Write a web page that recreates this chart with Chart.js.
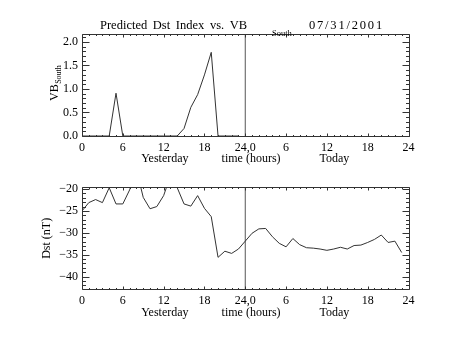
<!DOCTYPE html>
<html>
<head>
<meta charset="utf-8">
<script src="https://cdn.jsdelivr.net/npm/chart.js@4.4.1/dist/chart.umd.min.js"></script>
<style>
    body { margin: 0; background: #fff; }
    #wrap { position: relative; width: 454px; height: 341px; }
    canvas { position: absolute; left: 0; }
</style>
</head>
<body>
<div id="wrap">
    <canvas id="vbChart" width="454" height="170" style="top:0"></canvas>
    <canvas id="dstChart" width="454" height="171" style="top:170px"></canvas>
</div>
<script>
// hours counted from 00:00 yesterday (24 = 00:00 today)
const hoursVB = [0, 1, 2, 3, 4, 5, 6, 7, 8, 9, 10, 11, 12, 13, 14, 15, 16, 17, 18, 19, 20, 21, 22, 23]
const vbSouth = [0, 0, 0, 0, 0, 0.91, 0, 0, 0, 0, 0, 0, 0, 0, 0, 0.16, 0.61, 0.88, 1.30, 1.78, 0, 0, 0, 0]

const hoursDst = [0, 1, 2, 3, 4, 5, 6, 7, 8, 9, 10, 11, 12, 13, 14, 15, 16, 17, 18, 19, 20, 21, 22, 23,
                  24, 25, 26, 27, 28, 29, 30, 31, 32, 33, 34, 35, 36, 37, 38, 39, 40, 41, 42, 43, 44, 45, 46, 47]
const dst = [-25.0, -23.1, -22.4, -23.1, -19.7, -23.4, -23.4, -20.2, -15.5, -21.9, -24.5, -24.0,
             -21.5, -17.0, -19.7, -23.4, -23.9, -21.5, -24.4, -26.3, -35.6, -34.2, -34.7, -33.7,
             -31.9, -30.1, -29.1, -29.0, -30.9, -32.4, -33.2, -31.3, -32.7, -33.4, -33.5, -33.7,
             -34.0, -33.7, -33.3, -33.7, -32.9, -32.8, -32.2, -31.5, -30.5, -32.2, -31.9, -34.5]

const dayBreak = 24                           // vertical marker between yesterday and today
const xTicks = [0, 6, 12, 18, 24, 30, 36, 42, 48]
const vbTicks = [0, 0.5, 1, 1.5, 2]
const dstTicks = [-40, -35, -30, -25, -20]

const FONT = '"Liberation Serif", "DejaVu Serif", serif'
const INK = '#333'

// box round the plot with IDL style inward ticks on every side
const framePlugin = {
    id: 'frame',
    afterDatasetsDraw(chart, args, opts) {
        const {ctx, chartArea: a, scales: {x, y}} = chart
        const sx = v => Math.round(x.getPixelForValue(v)) + 0.5
        const sy = v => Math.round(y.getPixelForValue(v)) + 0.5
        const L = Math.round(a.left) + 0.5, R = Math.round(a.right) + 0.5
        const T = Math.round(a.top) + 0.5, B = Math.round(a.bottom) + 0.5
        ctx.save()
        ctx.strokeStyle = INK
        ctx.lineWidth = 1
        ctx.beginPath()
        ctx.rect(L, T, R - L, B - T)
        for (let h = x.min; h <= x.max; h += 1) {
            const len = h % 6 === 0 ? 3 : 1.5
            const px = sx(h)
            ctx.moveTo(px, B); ctx.lineTo(px, B - len)
            ctx.moveTo(px, T); ctx.lineTo(px, T + len)
        }
        const step = opts.minorStep
        const first = Math.ceil(y.min / step - 1e-6)
        for (let i = first; i * step <= y.max + 1e-6; i++) {
            const v = i * step
            const major = Math.abs(v / opts.majorStep - Math.round(v / opts.majorStep)) < 1e-6
            const len = major ? 7 : 3.5
            const py = sy(v)
            ctx.moveTo(L, py); ctx.lineTo(L + len, py)
            ctx.moveTo(R, py); ctx.lineTo(R - len, py)
        }
        ctx.stroke()
        ctx.restore()
    }
}

// titles that need subscripts are drawn by hand
const textPlugin = {
    id: 'texts',
    afterDraw(chart, args, opts) {
        if (opts.draw) opts.draw(chart.ctx, chart.chartArea)
    }
}

function makeChart(id, series, yCfg, pad, yWidth, xHeight, xPad, drawTexts) {
    const ctx = document.getElementById(id)
    return new Chart(ctx, {
        type: 'line',
        data: {
            datasets: [{
                data: series,
                borderColor: INK,
                borderWidth: 1,
                pointRadius: 0,
                tension: 0
            }, {
                data: [{x: dayBreak, y: yCfg.min}, {x: dayBreak, y: yCfg.max}],
                borderColor: '#555',
                borderWidth: 1,
                pointRadius: 0
            }]
        },
        options: {
            responsive: false,
            devicePixelRatio: 1,
            animation: false,
            events: [],
            layout: {padding: pad},
            scales: {
                x: {
                    type: 'linear',
                    min: 0,
                    max: 48,
                    grid: {display: false, drawTicks: false},
                    border: {display: false},
                    afterBuildTicks: axis => { axis.ticks = xTicks.map(v => ({value: v})) },
                    afterFit: axis => { axis.height = xHeight },
                    ticks: {
                        autoSkip: false,
                        maxRotation: 0,
                        padding: xPad,
                        color: '#000',
                        font: {family: FONT, size: 12},
                        callback: v => v === 24 ? '24,0' : String(v > 24 ? v - 24 : v)
                    },
                    title: {
                        display: true,
                        text: 'Yesterday           time (hours)             Today',
                        color: '#000',
                        font: {family: FONT, size: 12},
                        padding: {top: 0, bottom: 0}
                    }
                },
                y: {
                    min: yCfg.min,
                    max: yCfg.max,
                    grid: {display: false, drawTicks: false},
                    border: {display: false},
                    afterBuildTicks: axis => { axis.ticks = yCfg.ticks.map(v => ({value: v})) },
                    afterFit: axis => { axis.width = yWidth },
                    ticks: {
                        padding: 4,
                        color: '#000',
                        font: {family: FONT, size: 12},
                        callback: yCfg.fmt
                    }
                }
            },
            plugins: {
                legend: {display: false},
                tooltip: {enabled: false},
                frame: {minorStep: yCfg.minorStep, majorStep: yCfg.majorStep},
                texts: {draw: drawTexts}
            }
        },
        plugins: [framePlugin, textPlugin]
    })
}

const vbPoints = hoursVB.map((h, i) => ({x: h, y: vbSouth[i]}))
const dstPoints = hoursDst.map((h, i) => ({x: h, y: dst[i]}))

makeChart('vbChart', vbPoints,
    {min: 0, max: 2.17, ticks: vbTicks, minorStep: 0.1, majorStep: 0.5, fmt: v => v.toFixed(1)},
    {top: 34, right: 45.5, left: 0, bottom: 4}, 82, 30, 5,
    (ctx, a) => {
        ctx.save()
        ctx.fillStyle = '#000'
        ctx.textBaseline = 'alphabetic'
        // main title
        ctx.font = '12.5px ' + FONT
        ctx.wordSpacing = '2.5px'
        ctx.fillText('Predicted Dst Index vs. VB', 100, 29)
        ctx.wordSpacing = '0px'
        ctx.font = '8.5px ' + FONT
        ctx.fillText('South', 272, 35.5)
        ctx.font = '12.5px ' + FONT
        ctx.letterSpacing = '1.8px'
        ctx.fillText('07/31/2001', 309, 29)
        ctx.letterSpacing = '0px'
        // rotated y title VB_South
        ctx.translate(57.5, 101)
        ctx.rotate(-Math.PI / 2)
        ctx.font = '12px ' + FONT
        ctx.fillText('VB', 0, 0)
        const w = ctx.measureText('VB').width
        ctx.font = '8px ' + FONT
        ctx.fillText('South', w + 0.5, 3.5)
        ctx.restore()
    })

makeChart('dstChart', dstPoints,
    {min: -42.9, max: -19.6, ticks: dstTicks, minorStep: 1, majorStep: 5,
     fmt: v => (v < 0 ? '\u2212' : '') + Math.abs(v)},
    {top: 17.3, right: 45.5, left: 0, bottom: 21}, 82, 30.7, 4,
    (ctx, a) => {
        ctx.save()
        ctx.fillStyle = '#000'
        ctx.font = '12px ' + FONT
        ctx.textAlign = 'center'
        ctx.textBaseline = 'middle'
        ctx.translate(46.7, (a.top + a.bottom) / 2)
        ctx.rotate(-Math.PI / 2)
        ctx.fillText('Dst (nT)', 0, 0)
        ctx.restore()
    })
</script>
</body>
</html>
